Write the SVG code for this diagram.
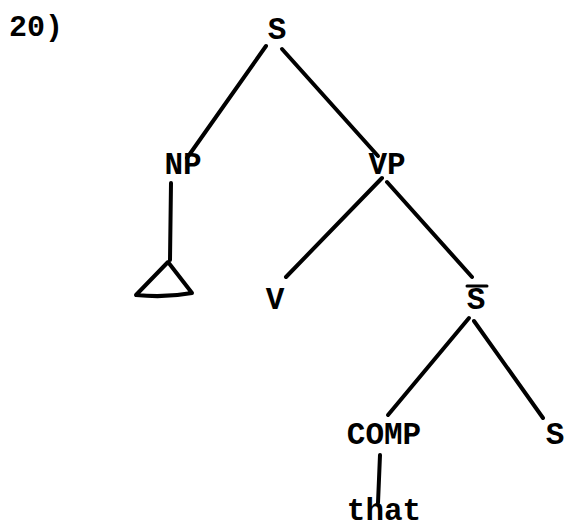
<svg xmlns="http://www.w3.org/2000/svg" width="564" height="530" viewBox="0 0 564 530">
<style>
text{font-family:"Liberation Mono","Courier New",monospace;font-weight:bold;font-size:31px;fill:#000;text-anchor:middle}
.e{stroke:#000;stroke-width:4;stroke-linecap:round;fill:none;stroke-linejoin:round}
</style>
<rect width="564" height="530" fill="#fff"/>
<text x="9" y="36" style="text-anchor:start;font-size:30px">20)</text>
<g id="connectors">
<line class="e" x1="266" y1="46" x2="187" y2="158"/>
<line class="e" x1="282" y1="49" x2="378" y2="156"/>
<line class="e" x1="171" y1="183" x2="170" y2="260"/>
<line class="e" x1="382" y1="178" x2="286" y2="277"/>
<line class="e" x1="387" y1="182" x2="472" y2="277"/>
<line class="e" x1="469" y1="318" x2="388" y2="415"/>
<line class="e" x1="474" y1="321" x2="543" y2="418"/>
<line class="e" x1="380" y1="455" x2="378" y2="503"/>
</g>
<g id="S"><text x="277" y="39">S</text></g>
<g id="NP"><text x="183" y="174">NP</text></g>
<g id="triangle"><path class="e" d="M168,262 L136,295 Q165,298 192,293 Z"/></g>
<g id="VP"><text x="387" y="174">VP</text></g>
<g id="V"><text x="275" y="309">V</text></g>
<g id="Sbar"><text x="476" y="309">S</text><line class="e" x1="467" y1="286" x2="487" y2="286" style="stroke-width:3"/></g>
<g id="COMP"><text x="384" y="444">COMP</text></g>
<g id="S2"><text x="555" y="444">S</text></g>
<g id="that"><text x="384" y="520">that</text></g>
</svg>
